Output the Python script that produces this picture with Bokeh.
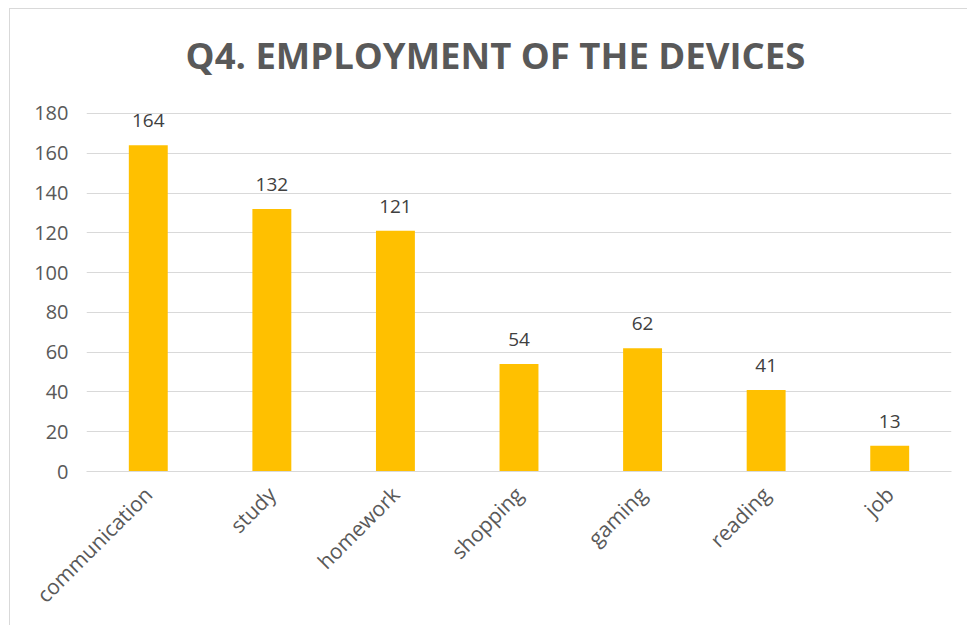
from math import pi
from bokeh.plotting import figure
from bokeh.models import ColumnDataSource, Range1d, Label, FixedTicker, LabelSet
from bokeh.core.properties import value
from bokeh.embed import file_html
from bokeh.resources import INLINE

categories = ["communication", "study", "homework", "shopping", "gaming", "reading", "job"]
values = [164, 132, 121, 54, 62, 41, 13]
y_ticks = [0, 20, 40, 60, 80, 100, 120, 140, 160, 180]
title_text = "Q4. EMPLOYMENT OF THE DEVICES"

src = ColumnDataSource(dict(cat=categories, val=values, lbl=[str(v) for v in values]))

# frame extended upward (no ticks/grid above 180) so the title can sit inside it
p = figure(x_range=categories, y_range=Range1d(0, 222.2), width=958, height=617,
           output_backend="svg", toolbar_location=None,
           min_border_left=76, min_border_right=17, min_border_top=20, min_border_bottom=155)
p.styles = {"margin-left": "9px", "margin-top": "8px",
            "border-left": "1px solid #d9d9d9", "border-top": "1px solid #d9d9d9"}
p.outline_line_color = None
p.background_fill_color = "white"
p.border_fill_color = "white"

p.vbar(x="cat", top="val", width=0.315, source=src, fill_color="#FFC000", line_color=None)

labels = LabelSet(x="cat", y="val", text="lbl", source=src, y_offset=18,
                  text_align="center", text_baseline="alphabetic",
                  text_font=value("Open Sans"), text_font_size="19px", text_color="#404040")
p.add_layout(labels)

p.yaxis.ticker = FixedTicker(ticks=y_ticks)
p.yaxis.axis_line_color = None
p.yaxis.major_tick_line_color = None
p.yaxis.minor_tick_line_color = None
p.yaxis.major_label_text_font = "Open Sans"
p.yaxis.major_label_text_font_size = "20px"
p.yaxis.major_label_text_color = "#595959"
p.yaxis.major_label_standoff = 12

p.xaxis.axis_line_color = "#d9d9d9"
p.xaxis.major_tick_line_color = None
p.xaxis.minor_tick_line_color = None
p.xaxis.major_label_orientation = pi / 4
p.xaxis.major_label_text_font = "Open Sans"
p.xaxis.major_label_text_font_size = "21px"
p.xaxis.major_label_text_color = "#595959"
p.xaxis.major_label_standoff = 13

p.xgrid.grid_line_color = None
p.ygrid.grid_line_color = "#d9d9d9"
p.ygrid.grid_line_width = 1

title = Label(x=409, y=417, x_units="screen", y_units="screen", text=title_text,
              text_align="center", text_baseline="alphabetic",
              text_font="Open Sans", text_font_style="bold", text_font_size="36.5px",
              text_color="#595959")
p.add_layout(title)

open("out.html", "w").write(file_html(p, INLINE))
